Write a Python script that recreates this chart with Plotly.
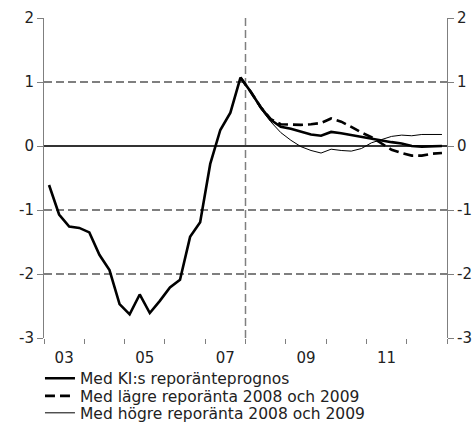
import plotly.graph_objects as go

# Quarters 2003K1 .. 2012K4
years = [y for y in range(2003, 2013) for _ in range(4)]
quarters = [q for _ in range(2003, 2013) for q in range(1, 5)]

main_vals = [-0.61, -1.07, -1.26, -1.28, -1.35, -1.70, -1.94, -2.47,
             -2.63, -2.32, -2.61, -2.42, -2.21, -2.09, -1.42, -1.19,
             -0.28, 0.25, 0.52, 1.07, 0.85, 0.61, 0.41, 0.30,
             0.27, 0.22, 0.18, 0.16, 0.22, 0.20, 0.17, 0.15,
             0.12, 0.08, 0.06, 0.04, 0.00, -0.01, 0.00, 0.00]

# Alternative scenarios start at 2007K4 (index 19)
alt_start = 19
lower_vals = [1.07, 0.85, 0.61, 0.42, 0.34, 0.33, 0.33, 0.34, 0.36, 0.43,
              0.38, 0.30, 0.21, 0.14, 0.04, -0.06, -0.11, -0.15, -0.15,
              -0.12, -0.11]
higher_vals = [1.07, 0.85, 0.58, 0.38, 0.21, 0.09, -0.01, -0.07, -0.11,
               -0.05, -0.07, -0.08, -0.04, 0.05, 0.10, 0.15, 0.17, 0.16,
               0.18, 0.18, 0.18]

year_ticks = list(range(2003, 2014))
label_years = [2003, 2005, 2007, 2009, 2011]
label_text = ["03", "05", "07", "09", "11"]
y_ticks = [-3, -2, -1, 0, 1, 2]
y_tick_text = ["-3", "-2", "-1", "0", "1", "2"]
forecast_start = 2008

names = ["Med KI:s reporänteprognos",
         "Med lägre reporänta 2008 och 2009",
         "Med högre reporänta 2008 och 2009"]

x_all = [y + (q - 0.5) / 4 for y, q in zip(years, quarters)]
x_alt = x_all[alt_start:]

fig = go.Figure()
fig.add_trace(go.Scatter(x=x_all, y=main_vals, mode="lines", name=names[0],
                         line=dict(color="black", width=2.6), legend="legend"))
fig.add_trace(go.Scatter(x=x_alt, y=lower_vals, mode="lines", name=names[1],
                         line=dict(color="black", width=2.6, dash="10px,5px"),
                         legend="legend2"))
fig.add_trace(go.Scatter(x=x_alt, y=higher_vals, mode="lines", name=names[2],
                         line=dict(color="black", width=1), legend="legend3"))
# invisible helper to show right axis
fig.add_trace(go.Scatter(x=[x_all[0]], y=[main_vals[0]], yaxis="y2", mode="markers",
                         marker=dict(opacity=0), showlegend=False, hoverinfo="skip"))

grid_col = "#7f7f7f"
font = dict(family="DejaVu Sans, Verdana, sans-serif", size=15, color="#222222")

fig.add_shape(type="line", xref="x", yref="paper", x0=forecast_start, x1=forecast_start,
              y0=0, y1=1, line=dict(color=grid_col, width=1.5, dash="8px,4px"), layer="below")

leg_common = dict(x=-0.01, xanchor="left", yanchor="top", orientation="v",
                  bgcolor="rgba(0,0,0,0)", font=dict(size=15.5), itemwidth=30,
                  tracegroupgap=0)

fig.update_layout(
    width=476, height=423,
    margin=dict(l=44, r=29, t=18, b=85, autoexpand=False),
    paper_bgcolor="white", plot_bgcolor="white",
    font=font,
    showlegend=True,
    legend=dict(y=-0.074, **leg_common),
    legend2=dict(y=-0.129, **leg_common),
    legend3=dict(y=-0.182, **leg_common),
    xaxis=dict(range=[2003, 2013], tickvals=[y + 0.5 for y in label_years],
               ticktext=label_text, ticks="outside", ticklen=6,
               tickcolor="rgba(0,0,0,0)", showgrid=False, zeroline=False,
               showline=False, automargin=False,
               minor=dict(tickvals=year_ticks, ticks="outside", ticklen=5,
                          tickcolor=grid_col, showgrid=False)),
    yaxis=dict(range=[-3, 2], tickvals=y_ticks, ticktext=y_tick_text,
               ticks="outside", ticklen=6,
               tickcolor=grid_col, showgrid=True, gridcolor=grid_col,
               griddash="8px,4px", gridwidth=1.5, zeroline=True,
               zerolinecolor="#333333", zerolinewidth=1.5, automargin=False,
               showline=True, linecolor=grid_col, linewidth=1),
    yaxis2=dict(range=[-3, 2], tickvals=y_ticks, ticktext=y_tick_text,
                overlaying="y", side="right",
                ticks="outside", ticklen=6, tickcolor=grid_col, showgrid=False,
                zeroline=False, showline=True, linecolor=grid_col, linewidth=1,
                automargin=False),
)

fig.write_html("out.html", config={"displayModeBar": False},
               post_script="document.body.style.margin='0';document.body.style.padding='0';")
